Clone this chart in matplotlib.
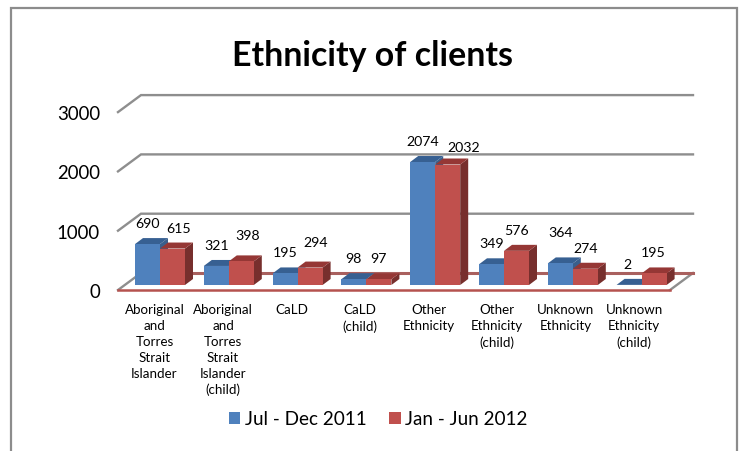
import matplotlib
matplotlib.use("Agg")
import matplotlib.pyplot as plt
from matplotlib.patches import Polygon, Patch, Rectangle

# ---- data ----
categories = ["Aboriginal\nand\nTorres\nStrait\nIslander",
              "Aboriginal\nand\nTorres\nStrait\nIslander\n(child)",
              "CaLD", "CaLD\n(child)", "Other\nEthnicity",
              "Other\nEthnicity\n(child)", "Unknown\nEthnicity",
              "Unknown\nEthnicity\n(child)"]
series_names = ["Jul - Dec 2011", "Jan - Jun 2012"]
jul_dec_2011 = [690, 321, 195, 98, 2074, 349, 364, 2]
jan_jun_2012 = [615, 398, 294, 97, 2032, 576, 274, 195]
y_ticks = [0, 1000, 2000, 3000]

# ---- layout (pixels of the 742x452 figure) ----
W, H = 742, 452
plt.rcParams["font.family"] = ["Lato", "DejaVu Sans"]
LEFT, RIGHT, TOP, BOTTOM = 118, 693, 89, 291
PX_X = 1 / 68.8                 # category units per pixel
PX_Y = 1000 / 59.3              # value units per pixel
BAR_W = 25 * PX_X
DX, DY = 8 * PX_X, 6 * PX_Y     # bar depth
FX, FY = 23 * PX_X, 17 * PX_Y   # floor depth
BASE = 5 * PX_Y                 # bars' foot above the floor's front edge
# label nudges from the default spot, in pixels
NUDGE_A = [(0, 0), (0, 0), (0, 0), (0, 0), (0, 0), (0, 0), (0, 10), (-2, 0)]
NUDGE_B = [(6, 0), (6, 5), (6, 5), (0, 0), (16, -3), (0, 0), (0, 0), (-1, 0)]

BLUE = ("#4F81BD", "#376092", "#3A5F8C")
RED = ("#C0504D", "#953735", "#772F2D")
GRID = "#8E8E8E"

fig = plt.figure(figsize=(W / 100, H / 100), dpi=100, facecolor="white")
ax = fig.add_axes([LEFT / W, 1 - BOTTOM / H, (RIGHT - LEFT) / W, (BOTTOM - TOP) / H])
x0 = (LEFT - 160) * PX_X
x1 = (RIGHT - 160) * PX_X
x_front_r = x1 - FX
ax.set_xlim(x0, x1)
ax.set_ylim(0, (BOTTOM - TOP) * PX_Y)
ax.patch.set_visible(False)
for s in ax.spines.values():
    s.set_visible(False)

# outer chart frame
fig.add_artist(Rectangle((11 / W, -0.02), (737 - 11) / W, 1.02 - 9 / H,
                         transform=fig.transFigure, fill=False,
                         edgecolor="#8C8C8C", linewidth=1.6))

# gridlines with their slanted wall part
for v in y_ticks[1:]:
    ax.plot([x0, x0 + FX, x1], [v, v + FY, v + FY], color=GRID, lw=1.7,
            clip_on=False, zorder=1, solid_joinstyle="miter")

# floor
ax.add_patch(Polygon([(x0, 0), (x0 + FX, FY), (x1, FY), (x_front_r, 0)], closed=True,
                     facecolor="white", edgecolor="none", zorder=2, clip_on=False))
ax.plot([x0, x0 + FX], [0, FY], color=GRID, lw=1.7, zorder=3, clip_on=False)
ax.plot([x_front_r, x1], [0, FY], color=GRID, lw=1.7, zorder=3, clip_on=False)
ax.plot([x0 + FX, x1], [FY, FY], color="#A9605E", lw=2.2, zorder=3, clip_on=False)
ax.plot([x0, x_front_r], [0, 0], color="#B5524F", lw=1.8, zorder=3, clip_on=False)


def bar3d(xc, v, cols, z):
    xl, xr = xc - BAR_W / 2, xc + BAR_W / 2
    top = BASE + v
    ax.add_patch(Polygon([(xr, BASE), (xr + DX, BASE + DY), (xr + DX, top + DY), (xr, top)],
                         closed=True, facecolor=cols[2], edgecolor="none", zorder=z, clip_on=False))
    ax.add_patch(Polygon([(xl, top), (xl + DX, top + DY), (xr + DX, top + DY), (xr, top)],
                         closed=True, facecolor=cols[1], edgecolor="none", zorder=z, clip_on=False))
    ax.bar(xc, v, BAR_W, bottom=BASE, color=cols[0], edgecolor="none",
           zorder=z + 0.1, clip_on=False)


for i, (a, b) in enumerate(zip(jul_dec_2011, jan_jun_2012)):
    bar3d(i - BAR_W / 2, a, BLUE, 4 + i * 0.01)
    bar3d(i + BAR_W / 2, b, RED, 4.5 + i * 0.01)

# value labels
for i, (a, b) in enumerate(zip(jul_dec_2011, jan_jun_2012)):
    for xc, v, nudge in ((i - BAR_W / 2, a, NUDGE_A[i]), (i + BAR_W / 2, b, NUDGE_B[i])):
        ax.annotate(str(v), (xc, BASE + v),
                    xytext=(nudge[0] * 0.72, (21 + nudge[1]) * 0.72),
                    textcoords="offset points", ha="center", va="center",
                    fontsize=10.2, color="black", zorder=8, annotation_clip=False)

# axes ticks
ax.set_yticks(y_ticks)
ax.set_yticklabels([str(t) for t in y_ticks], fontsize=13.4)
ax.tick_params(axis="y", length=0, pad=13)
ax.set_xticks([i * 0.996 - 0.08 for i in range(len(categories))])
ax.set_xticklabels(categories, fontsize=9.6, linespacing=1.385, ha="center", va="top")
ax.tick_params(axis="x", length=0, pad=9.5)

# title
fig.text(372.5 / W, 1 - 56 / H, "Ethnicity of clients", fontsize=24.4, fontweight="bold",
         ha="center", va="center", color="black")

# legend
handles = [Patch(facecolor=BLUE[0], label=series_names[0]),
           Patch(facecolor=RED[0], label=series_names[1])]
fig.legend(handles=handles, loc="center", bbox_to_anchor=(378 / W, 1 - 420 / H), ncol=2,
           frameon=False, fontsize=13.6, handlelength=0.62, handleheight=0.62,
           handletextpad=0.22, columnspacing=1.2)

fig.savefig("out.png", dpi=100, facecolor="white")
